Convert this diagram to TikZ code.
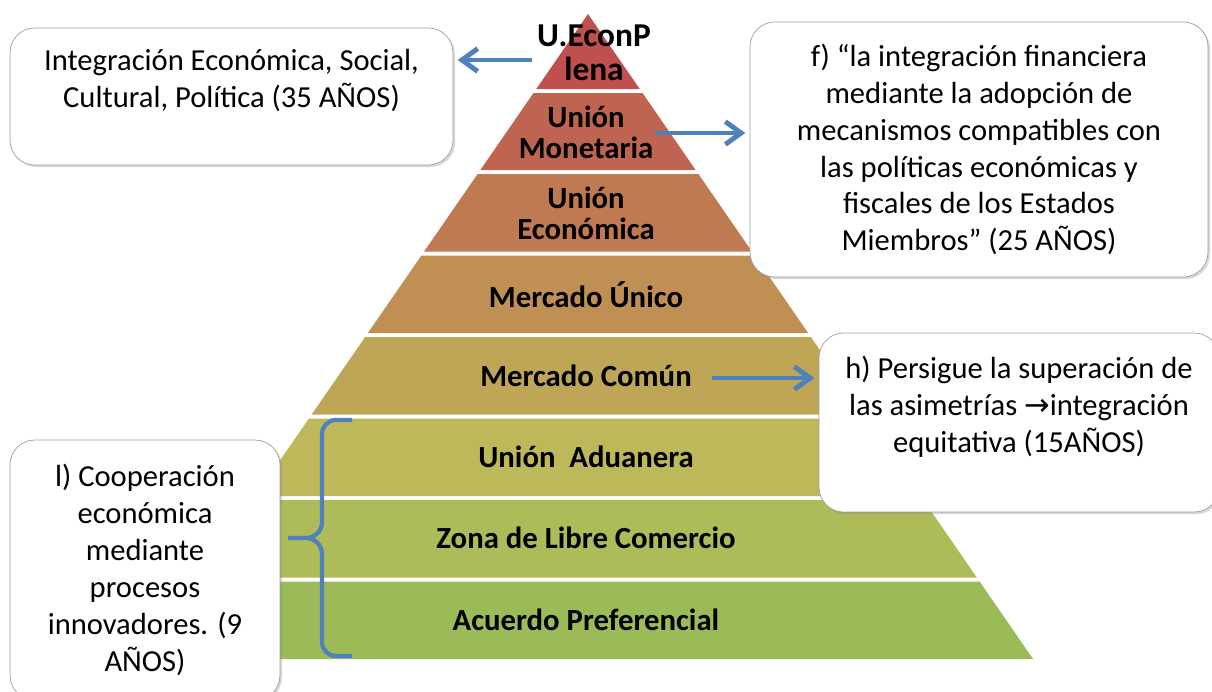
\documentclass[tikz,border=0pt]{standalone}
\usepackage{fontspec}
\setmainfont{Carlito}
\newfontfamily\arrowfont{DejaVu Sans}
\usetikzlibrary{positioning,shadows,arrows.meta}

\definecolor{layerA}{HTML}{C0504D}
\definecolor{layerB}{HTML}{BF6450}
\definecolor{layerC}{HTML}{C07A51}
\definecolor{layerD}{HTML}{C08F53}
\definecolor{layerE}{HTML}{BFA656}
\definecolor{layerF}{HTML}{BDB95A}
\definecolor{layerG}{HTML}{AEBB59}
\definecolor{layerH}{HTML}{9BBB59}
\definecolor{arrowblue}{HTML}{4F81BD}

\begin{document}
\begin{tikzpicture}[x=0.02cm,y=-0.02cm,node distance=1.625cm,
  level node/.style={inner sep=0pt,align=center,font=\fontsize{17.5}{17.6}\selectfont\bfseries},
  info box/.style={draw=gray!75,fill=white,thin,rounded corners=14pt,align=center,font=\fontsize{17.4}{21}\selectfont,
    drop shadow={shadow xshift=1.2pt,shadow yshift=-1.2pt,opacity=0.3}},
  blue arrow/.style={draw=arrowblue,line width=2.8pt,-{Straight Barb[length=9pt,width=13pt]},shorten >=2.5pt}]
  \useasboundingbox (0,0) rectangle (1212,691);

  % pyramid layers, apex at (588,14)
  \foreach \t/\b/\c in {14/89/layerA,93/170/layerB,174/251.5/layerC,255.5/333/layerD,
                        337/414.5/layerE,418.5/496/layerF,500/577.5/layerG,581.5/659/layerH}
    \fill[\c] ({588-0.69*(\t-14)},\t) -- ({588+0.69*(\t-14)},\t)
              -- ({588+0.69*(\b-14)},\b) -- ({588-0.69*(\b-14)},\b) -- cycle;

  \node[level node,font=\fontsize{19}{19.5}\selectfont\bfseries] (plena) at (594,53) {U.EconP\\lena};
  \node[level node] (monetaria) at (586,132) {Unión\\Monetaria};
  \node[level node] (economica) [below of = monetaria] {Unión\\Económica};
  \node[level node] (unico) [below of = economica] {Mercado Único};
  \node[level node] (comun) [below of = unico] {Mercado Común};
  \node[level node] (aduanera) [below of = comun] {Unión\ \ Aduanera};
  \node[level node] (libre) [below of = aduanera] {Zona de Libre Comercio};
  \node[level node] (acuerdo) [below of = libre] {Acuerdo Preferencial};

  % notes
  \node[info box,minimum width=8.86cm,minimum height=2.74cm] (politica) at (231.5,96.5)
    {Integración Económica, Social,\\Cultural, Política (35 AÑOS)\\\mbox{}};
  \node[info box,minimum width=9.16cm,minimum height=5.1cm] (financiera) at (979,149.5)
    {f) “la integración financiera\\mediante la adopción de\\mecanismos compatibles con\\
     las políticas económicas y\\fiscales de los Estados\\Miembros” (25 AÑOS)};
  \node[info box,minimum width=8cm,minimum height=3.58cm] (asimetrias) at (1019,422.5)
    {h) Persigue la superación de\\las asimetrías {\arrowfont →}integración\\equitativa (15AÑOS)\\\mbox{}};
  \node[info box,minimum width=5.4cm,minimum height=5.2cm] (cooperacion) at (145,570)
    {l) Cooperación\\económica\\mediante\\procesos\\innovadores. (9\\AÑOS)};

  \coordinate (plena tail) at (532,60);
  \coordinate (monetaria tail) at (655,133);
  \coordinate (comun tail) at (712,378);
  \draw[blue arrow] (plena tail) -- (plena tail -| politica.east);
  \draw[blue arrow] (monetaria tail) -- (monetaria tail -| financiera.west);
  \draw[blue arrow] (comun tail) -- (comun tail -| asimetrias.west);

  % brace over the three lower levels
  \draw[arrowblue,line width=2.4pt] (352,420) -- (336,420) to[out=180,in=90] (322,434) -- (322,522)
    to[out=-90,in=0] (306,538) -- (288,538) -- (306,538) to[out=0,in=90] (322,554) -- (322,642)
    to[out=-90,in=180] (336,656) -- (352,656);
\end{tikzpicture}
\end{document}
